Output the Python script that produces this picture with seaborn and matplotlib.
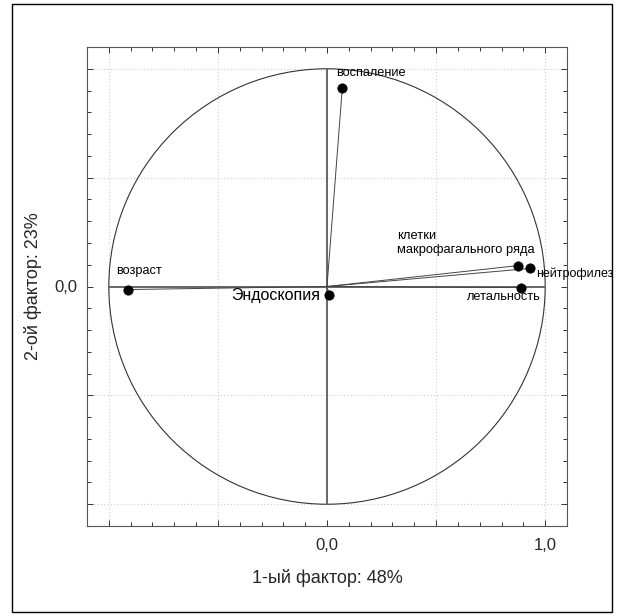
import matplotlib
matplotlib.use("Agg")
import matplotlib.pyplot as plt
import seaborn as sns
import numpy as np
import pandas as pd
from matplotlib.patches import Circle, Rectangle
from matplotlib.ticker import MultipleLocator

variables = ["воспаление", "клетки\nмакрофагального ряда", "нейтрофилез",
             "летальность", "возраст", "Эндоскопия"]
factor1 = [0.07, 0.876, 0.93, 0.89, -0.913, 0.01]
factor2 = [0.91, 0.096, 0.083, -0.005, -0.014, -0.04]
x_label = "1-ый фактор: 48%"
y_label = "2-ой фактор: 23%"

df = pd.DataFrame({"var": variables, "f1": factor1, "f2": factor2})

sns.set_theme(style="white")
plt.rcParams["font.family"] = ["Liberation Sans", "DejaVu Sans"]

fig = plt.figure(figsize=(6.2, 6.16), dpi=100)
ax = fig.add_axes([87/620, 1-526/616, 480/620, 479/616])

# outer frame
fig.patches.append(Rectangle((12/620, 1-612/616), 600/620, 608/616,
                             transform=fig.transFigure, fill=False,
                             edgecolor="black", linewidth=1.0))

ax.set_xlim(-1.1, 1.1)
ax.set_ylim(-1.1, 1.1)

# grid
for v in [-1.0, -0.5, 0.5, 1.0]:
    ax.axvline(v, color="#cfcfcf", linestyle=(0, (1, 2)), linewidth=0.8, zorder=0)
    ax.axhline(v, color="#cfcfcf", linestyle=(0, (1, 2)), linewidth=0.8, zorder=0)

# unit circle
ax.add_patch(Circle((0, 0), 1.0, fill=False, edgecolor="#333333", linewidth=0.8))

# axes lines through origin
ax.plot([0, 0], [-1, 1], color="#666666", linewidth=1.4, zorder=1)
ax.plot([-1, 1], [0, 0], color="#666666", linewidth=1.4, zorder=1)

# vectors
for x, y in zip(df["f1"], df["f2"]):
    ax.plot([0, x], [0, y], color="#444444", linewidth=0.7, zorder=2)

sns.scatterplot(data=df, x="f1", y="f2", color="black", s=45, edgecolor="black",
                ax=ax, zorder=3, legend=False)

offsets = {
    "воспаление": (-0.03, 0.072, "left", 9.2),
    "клетки\nмакрофагального ряда": (-0.556, 0.104, "left", 9.3),
    "нейтрофилез": (0.03, -0.023, "left", 9.0),
    "летальность": (-0.248, -0.045, "left", 9.2),
    "возраст": (-0.055, 0.083, "left", 9.2),
    "Эндоскопия": (-0.042, 0.0, "right", 11.5),
}
for name, x, y in zip(df["var"], df["f1"], df["f2"]):
    dx, dy, ha, fs = offsets[name]
    ax.text(x + dx, y + dy, name, ha=ha, va="center", fontsize=fs, color="black",
            linespacing=1.3, clip_on=False)

ax.set_xticks([-1.0, -0.5, 0.0, 0.5, 1.0])
ax.set_xticklabels(["", "", "0,0", "", "1,0"])
ax.set_yticks([-1.0, -0.5, 0.0, 0.5, 1.0])
ax.set_yticklabels(["", "", "0,0", "", ""])
ax.xaxis.set_minor_locator(MultipleLocator(0.1))
ax.yaxis.set_minor_locator(MultipleLocator(0.1))
ax.tick_params(which="both", direction="in", top=True, bottom=True, left=True,
               right=True, length=3, width=0.7, color="#333333", labelsize=12)
ax.tick_params(which="major", length=4)
ax.tick_params(axis="x", pad=9)
ax.tick_params(axis="y", pad=7)
for s in ax.spines.values():
    s.set_color("#555555")
    s.set_linewidth(0.8)

ax.set_xlabel(x_label, fontsize=13, labelpad=11)
ax.set_ylabel(y_label, fontsize=13, labelpad=9)

fig.savefig("out.png", dpi=100)
